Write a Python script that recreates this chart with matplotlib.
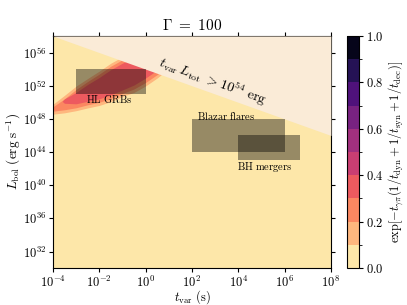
import numpy as np
import matplotlib
matplotlib.use('Agg')
import matplotlib.pyplot as plt
import matplotlib.ticker as ticker
from matplotlib.colors import BoundaryNorm, ListedColormap
from matplotlib.cm import ScalarMappable

plt.rcParams['mathtext.fontset'] = 'cm'
plt.rcParams['font.family'] = 'serif'
plt.rcParams['font.serif'] = ['cmr10', 'DejaVu Serif']
plt.rcParams['axes.unicode_minus'] = False

# contour bands, log10(t_var) and log10(L_bol) edges
lt1 = [-4.6, -4.0, -3.5, -3.0, -2.5, -2.0, -1.5, -1.0, -0.5, 0.0, 0.5, 1.0, 1.5, 2.0]
lo1 = [48.93, 48.57, 48.73, 48.99, 49.32, 49.62, 50.08, 50.72, 51.19, 51.97, 52.93, 54.06, 55.13, 56.21]
hi1 = [48.93, 49.76, 50.84, 51.95, 52.87, 53.76, 54.72, 55.49, 56.21, 56.81, 57.28, 57.40, 57.04, 56.21]

lt2 = [-4.4, -4.0, -3.5, -3.0, -2.5, -2.0, -1.5, -1.0, -0.5, 0.0, 0.5, 1.0, 1.5]
lo2 = [49.28, 48.93, 49.10, 49.34, 49.70, 50.00, 50.48, 51.07, 51.61, 52.39, 53.34, 54.42, 55.49]
hi2 = [49.28, 49.46, 50.42, 51.55, 52.51, 53.40, 54.36, 55.13, 55.85, 56.45, 56.81, 56.81, 55.49]

lt3 = [-3.6, -3.5, -3.0, -2.5, -2.0, -1.5, -1.0, -0.5, 0.0, 0.5, 1.0]
lo3 = [50.12, 49.88, 49.82, 50.12, 50.42, 50.90, 51.49, 52.09, 52.93, 53.88, 54.90]
hi3 = [50.12, 50.42, 51.19, 52.15, 52.99, 53.94, 54.72, 55.37, 55.97, 56.33, 54.90]

band_levels = [0.15, 0.25, 0.35]

# source classes
src_names = ['HL GRBs', 'Blazar flares', 'BH mergers']
src_tlo = [1e-3, 1e2, 1e4]
src_thi = [1e0, 1e6, 4.5e6]
src_Llo = [1e51, 1e44, 1e43]
src_Lhi = [1e54, 1e48, 1e46]
lab_t = [10**-1.56, 10**3.47, 10**5.16]
lab_L = [10**50.36, 10**48.39, 10**42.24]

E_max = 1e54
gamma = 100

levels = np.linspace(0, 1, 11)
cmap = plt.get_cmap('magma_r')
colors = cmap(levels[:-1] + 0.05)
lcmap = ListedColormap(colors)
norm = BoundaryNorm(levels, lcmap.N)

fig = plt.figure(figsize=(4.07, 3.05), dpi=100)
ax = fig.add_axes([0.130, 0.121, 0.683, 0.761])
cax = fig.add_axes([0.8526, 0.121, 0.0295, 0.761])

ax.set_xscale('log')
ax.set_yscale('log')
ax.set_xlim(1e-4, 1e8)
ax.set_ylim(1e30, 1e58)
ax.set_facecolor(lcmap(norm(0.05)))

for lt, lo, hi, lev in zip([lt1, lt2, lt3], [lo1, lo2, lo3], [hi1, hi2, hi3], band_levels):
    ax.fill_between(10.0**np.array(lt), 10.0**np.array(lo), 10.0**np.array(hi),
                    color=lcmap(norm(lev)), lw=0, zorder=2)

t_line = np.array([1e-4, 1e8])
ax.fill_between(t_line, E_max / t_line, 1e58, color='antiquewhite', lw=0, zorder=3)
ax.text(10**2.91, 10**52.5, r'$t_{\rm var}\,L_{\rm tot}\ >10^{54}\ {\rm erg}$',
        rotation=-19.8, ha='center', va='center', fontsize=10, zorder=5)

for name, t0, t1, L0, L1, tx, ly in zip(src_names, src_tlo, src_thi, src_Llo, src_Lhi, lab_t, lab_L):
    ax.fill_between([t0, t1], L0, L1, color='k', alpha=0.4, lw=0, zorder=4)
    ax.text(tx, ly, r'$\mathrm{' + name.replace(' ', r'\ ') + '}$',
            ha='center', va='center', fontsize=7.5, zorder=5)

ax.set_xticks(10.0**np.arange(-4, 9, 2))
ax.set_yticks(10.0**np.arange(32, 57, 4))
ax.xaxis.set_minor_locator(ticker.NullLocator())
ax.yaxis.set_minor_locator(ticker.NullLocator())
ax.tick_params(which='both', direction='out', top=True, right=True, labelsize=9, length=3, pad=1.5)
ax.set_xlabel(r'$t_{\rm var}\ ({\rm s})$', fontsize=9, labelpad=-1)
ax.set_ylabel(r'$L_{\rm bol}\ ({\rm erg\ s^{-1}})$', fontsize=9.5, labelpad=0)
ax.set_title(r'$\Gamma\ =\ %d$' % gamma, fontsize=11, pad=4)

cb = fig.colorbar(ScalarMappable(norm=norm, cmap=lcmap), cax=cax)
cb_ticks = [0.0, 0.2, 0.4, 0.6, 0.8, 1.0]
cb.set_ticks(cb_ticks)
cb.set_ticklabels([r'$%.1f$' % v for v in cb_ticks])
cb.ax.tick_params(labelsize=9, length=3, pad=2)
cb.set_label(r'$\exp[-t_{\gamma\pi}(1/t_{\rm dyn}+1/t_{\rm syn}+1/t_{\rm dec})]$', fontsize=9, labelpad=2)

fig.savefig('out.png', dpi=100)
